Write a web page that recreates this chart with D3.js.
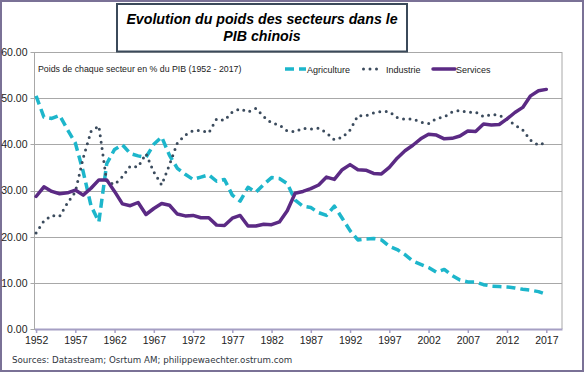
<!DOCTYPE html>
<html>
<head>
<meta charset="utf-8">
<script src="https://cdn.jsdelivr.net/npm/d3@7"></script>
<style>
  body { margin: 0; background: #fff; }
  svg { display: block; font-family: Arial, "Liberation Sans", sans-serif; }
</style>
</head>
<body>
<svg width="584" height="372"></svg>
<script>
// data (share of GDP, %)
var years = d3.range(1952, 2018);

var agriculture = [
  50.5, 45.9, 45.6, 46.3, 43.2, 40.3, 34.1, 26.7, 23.2, 35.8,
  38.9, 39.9, 38.0, 37.5, 37.2, 40.0, 41.6, 37.6, 34.8, 33.5,
  32.4, 32.9, 33.4, 32.0, 32.4, 29.0, 27.7, 30.7, 29.6, 31.3,
  32.8, 32.6, 31.5, 27.9, 26.6, 26.3, 25.2, 24.6, 26.6, 24.0,
  21.3, 19.3, 19.5, 19.6, 19.3, 17.9, 17.2, 16.1, 14.7, 14.0,
  13.3, 12.3, 12.9, 11.6, 10.6, 10.2, 10.2, 9.6, 9.3, 9.2,
  9.1, 8.9, 8.6, 8.4, 8.1, 7.5
];

var industrie = [
  20.8, 23.4, 24.6, 24.4, 27.3, 29.7, 37.0, 42.8, 44.0, 31.9,
  31.3, 33.0, 35.3, 35.1, 38.0, 34.0, 31.2, 35.6, 40.3, 42.0,
  43.0, 43.0, 42.5, 45.5, 45.2, 47.0, 47.7, 47.0, 47.8, 46.0,
  44.6, 44.2, 42.9, 42.7, 43.5, 43.3, 43.5, 42.5, 41.0, 41.5,
  43.1, 46.2, 46.2, 46.8, 47.1, 47.1, 45.8, 45.4, 45.5, 44.8,
  44.5, 45.6, 45.9, 47.0, 47.4, 46.9, 47.0, 46.0, 46.5, 46.3,
  45.4, 44.2, 43.1, 40.9, 39.8, 40.5
];

var services = [
  28.7, 30.8, 29.8, 29.3, 29.5, 30.1, 29.0, 30.5, 32.3, 32.3,
  29.8, 27.1, 26.7, 27.4, 24.8, 26.1, 27.2, 26.8, 24.9, 24.5,
  24.6, 24.1, 24.1, 22.5, 22.4, 24.0, 24.6, 22.3, 22.3, 22.7,
  22.6, 23.2, 25.6, 29.4, 29.8, 30.4, 31.2, 32.9, 32.4, 34.5,
  35.6, 34.5, 34.4, 33.7, 33.6, 35.0, 37.0, 38.6, 39.8, 41.2,
  42.2, 42.0, 41.2, 41.3, 41.8, 42.9, 42.8, 44.4, 44.2, 44.3,
  45.5, 46.9, 48.0, 50.5, 51.6, 51.9
];

var xTicks = [1952, 1957, 1962, 1967, 1972, 1977, 1982, 1987, 1992, 1997, 2002, 2007, 2012, 2017];
var yTicks = [0, 10, 20, 30, 40, 50, 60];

var series = [
  { name: 'Agriculture', values: agriculture, color: '#1db6cb', width: 3.5, dash: '9,5', cap: 'butt' },
  { name: 'Industrie', values: industrie, color: '#3b4b5d', width: 3, dash: '0,6.5', cap: 'round' },
  { name: 'Services', values: services, color: '#5b2a84', width: 3.5, dash: null, cap: 'round' }
];

var titleLines = ['Evolution du poids des secteurs dans le', 'PIB chinois'];
var subtitle = 'Poids de chaque secteur en % du PIB (1952 - 2017)';
var sourceText = 'Sources: Datastream; Osrtum AM; philippewaechter.ostrum.com';

// set the dimensions and margins of the graph
var margin = { top: 52, right: 22, bottom: 43, left: 34.5 };
var width = 584 - margin.left - margin.right;
var height = 372 - margin.top - margin.bottom;

var x = d3.scaleLinear().domain([1951.8, 2019]).range([0, width]);
var y = d3.scaleLinear().domain([0, 60]).range([height, 0]);

var svg = d3.select('svg');

// outer frame
svg.append('rect')
  .attr('x', 1).attr('y', 1)
  .attr('width', 582).attr('height', 370)
  .attr('fill', '#fff')
  .attr('stroke', '#7a7196')
  .attr('stroke-width', 2);

var graph = svg.append('g')
  .attr('transform', 'translate(' + margin.left + ',' + margin.top + ')');

// gridlines
graph.append('g')
  .selectAll('line')
  .data(yTicks)
  .enter().append('line')
  .attr('x1', -4).attr('x2', width)
  .attr('y1', function (d) { return Math.round(y(d)) + 0.5; })
  .attr('y2', function (d) { return Math.round(y(d)) + 0.5; })
  .attr('stroke', '#a8a8a8')
  .attr('stroke-width', 1);

// y axis line and right border
graph.append('line')
  .attr('x1', 0).attr('x2', 0).attr('y1', 0).attr('y2', height)
  .attr('stroke', '#a8a8a8');
graph.append('line')
  .attr('x1', width).attr('x2', width).attr('y1', 0).attr('y2', height)
  .attr('stroke', '#a8a8a8');

var yAxis = graph.append('g')
  .attr('class', 'axis axis--y')
  .call(d3.axisLeft(y).tickValues(yTicks).tickFormat(d3.format('.2f')).tickSize(0).tickPadding(7));
yAxis.select('.domain').remove();
yAxis.selectAll('text')
  .attr('font-size', '10.5px')
  .attr('font-family', 'Arial, "Liberation Sans", sans-serif')
  .attr('fill', '#222');

var xAxis = graph.append('g')
  .attr('class', 'axis axis--x')
  .attr('transform', 'translate(0,' + height + ')')
  .call(d3.axisBottom(x).tickValues(xTicks).tickFormat(d3.format('d')).tickSizeInner(4).tickSizeOuter(0).tickPadding(4));
xAxis.select('.domain').attr('stroke', '#a59fc4').attr('stroke-width', 2);
xAxis.selectAll('.tick line').attr('stroke', '#a59fc4').attr('stroke-width', 1.5);
xAxis.selectAll('text')
  .attr('font-size', '10.5px')
  .attr('font-family', 'Arial, "Liberation Sans", sans-serif')
  .attr('fill', '#222');

// lines
var line = d3.line()
  .x(function (d, i) { return x(years[i]); })
  .y(function (d) { return y(d); });

graph.selectAll('.run')
  .data(series)
  .enter().append('path')
  .attr('class', 'run')
  .attr('d', function (d) { return line(d.values); })
  .attr('fill', 'none')
  .attr('stroke', function (d) { return d.color; })
  .attr('stroke-width', function (d) { return d.width; })
  .attr('stroke-dasharray', function (d) { return d.dash; })
  .attr('stroke-linecap', function (d) { return d.cap; })
  .attr('stroke-linejoin', 'round');

// subtitle and legend
svg.append('text')
  .attr('x', 38).attr('y', 72)
  .attr('font-size', '8.8px')
  .attr('fill', '#222')
  .text(subtitle);

var legendX = [285, 362, 433];
var legend = svg.selectAll('.legend')
  .data(series)
  .enter().append('g')
  .attr('class', 'legend')
  .attr('transform', function (d, i) { return 'translate(' + legendX[i] + ',69)'; });

legend.append('line')
  .attr('x1', function (d) { return d.cap === 'round' && d.dash ? 1.5 : 0; })
  .attr('x2', function (d) { return d.name === 'Services' ? 22 : 21; })
  .attr('y1', 0).attr('y2', 0)
  .attr('stroke', function (d) { return d.color; })
  .attr('stroke-width', function (d) { return d.width; })
  .attr('stroke-dasharray', function (d) { return d.dash; })
  .attr('stroke-linecap', function (d) { return d.cap; });

legend.append('text')
  .attr('x', function (d) { return d.name === 'Services' ? 23 : (d.name === 'Industrie' ? 24 : 22); })
  .attr('y', 3.5)
  .attr('font-size', '9px')
  .attr('fill', '#222')
  .text(function (d) { return d.name; });

// title box
svg.append('rect')
  .attr('x', 117).attr('y', 4)
  .attr('width', 290).attr('height', 47.5)
  .attr('fill', '#fff')
  .attr('stroke', '#3b4a5a')
  .attr('stroke-width', 2);

svg.selectAll('.title')
  .data(titleLines)
  .enter().append('text')
  .attr('class', 'title')
  .attr('x', 262)
  .attr('y', function (d, i) { return 23.5 + i * 17.5; })
  .attr('text-anchor', 'middle')
  .attr('font-size', '14.2px')
  .attr('font-weight', 'bold')
  .attr('font-style', 'italic')
  .attr('fill', '#000')
  .text(function (d) { return d; });

// source
svg.append('text')
  .attr('x', 12).attr('y', 363)
  .attr('font-family', '"DejaVu Sans", Verdana, sans-serif')
  .attr('font-size', '8.7px')
  .attr('fill', '#2f3540')
  .text(sourceText);
</script>
</body>
</html>
